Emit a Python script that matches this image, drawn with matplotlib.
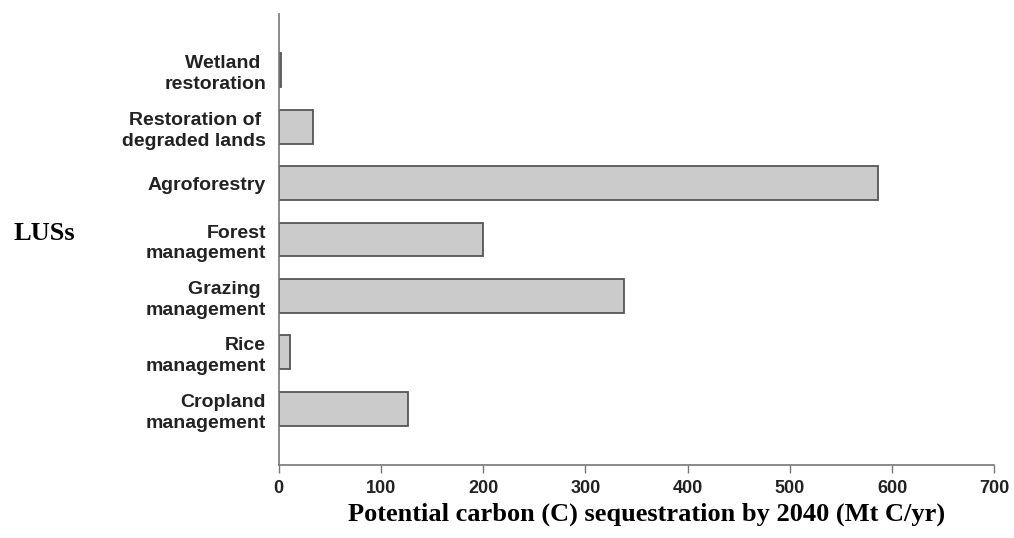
import numpy as np
import matplotlib.pyplot as plt

# bottom to top
categories = ["Cropland\nmanagement", "Rice\nmanagement", "Grazing \nmanagement",
              "Forest\nmanagement", "Agroforestry", "Restoration of \ndegraded lands",
              "Wetland \nrestoration"]
values = [126, 11, 338, 200, 586, 34, 2]
xticks = [0, 100, 200, 300, 400, 500, 600, 700]

fig = plt.figure(figsize=(10.14, 5.38), dpi=100)
ax = fig.add_axes([278.7/1014, 73/538, 715.6/1014, 451/538])

y = np.arange(len(categories))
ax.barh(y, values, height=0.6, color='#cbcbcb', edgecolor='#555555', linewidth=1.3)

ax.set_xlim(0, 700)
ax.set_ylim(-1, 7)
ax.set_xticks(xticks)
ax.set_xticklabels([str(t) for t in xticks], fontfamily='Liberation Sans',
                   fontweight='bold', fontsize=13, color='#222222')
ax.set_yticks(y)
ax.set_yticklabels(categories, fontfamily='Liberation Sans', fontweight='bold',
                   fontsize=14, color='#222222', linespacing=1.3)

ax.tick_params(axis='y', length=0, pad=9)
ax.tick_params(axis='x', length=6, width=1, color='#777777', pad=5)
for s in ['top', 'right']:
    ax.spines[s].set_visible(False)
for s in ['left', 'bottom']:
    ax.spines[s].set_color('#777777')
    ax.spines[s].set_linewidth(1.2)

fig.text(647 / 1014, 1 - 514 / 538, 'Potential carbon (C) sequestration by 2040 (Mt C/yr)',
         fontfamily='Liberation Serif', fontweight='bold', fontsize=19,
         ha='center', va='center')
fig.text(13 / 1014, 1 - 233 / 538, 'LUSs', fontfamily='Liberation Serif',
         fontweight='bold', fontsize=19, ha='left', va='center')

fig.savefig('out.png', dpi=100)
